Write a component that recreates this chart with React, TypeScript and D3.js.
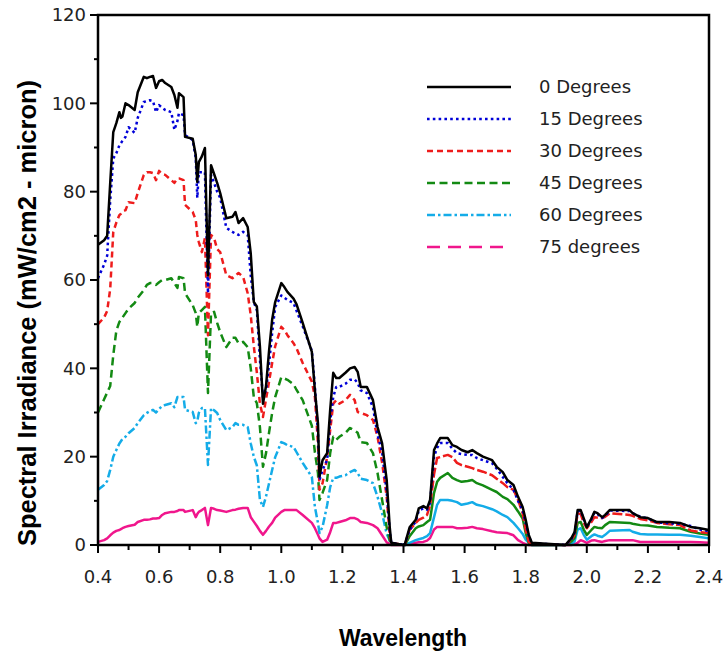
import React from "react";
import * as d3 from "d3";

const wavelengths = [
  0.40,0.42,0.43,0.44,0.45,0.46,0.47,0.475,0.48,0.49,
  0.50,0.52,0.53,0.55,0.56,0.57,0.58,0.59,0.60,0.61,
  0.62,0.64,0.65,0.66,0.665,0.68,0.685,0.71,0.72,0.725,
  0.73,0.74,0.75,0.76,0.77,0.78,0.79,0.80,0.82,0.84,
  0.85,0.86,0.875,0.89,0.90,0.91,0.92,0.93,0.94,0.95,
  0.96,0.97,0.98,1.00,1.01,1.02,1.04,1.05,1.07,1.10,
  1.11,1.12,1.125,1.135,1.15,1.16,1.17,1.18,1.19,1.21,
  1.225,1.24,1.25,1.26,1.28,1.30,1.315,1.33,1.345,1.355,
  1.36,1.40,1.405,1.42,1.44,1.45,1.465,1.477,1.487,1.50,
  1.51,1.52,1.545,1.56,1.575,1.59,1.61,1.625,1.64,1.66,
  1.69,1.705,1.725,1.74,1.76,1.775,1.79,1.80,1.81,1.82,
  1.93,1.95,1.96,1.97,1.98,1.99,2.00,2.015,2.025,2.035,
  2.05,2.06,2.075,2.14,2.15,2.175,2.20,2.23,2.27,2.305,
  2.34,2.37,2.40,
];

const deg0 = [
  68,69,70,82,93.5,95.5,98,96.7,97,100,
  99.6,98.5,102.5,106,105.7,106,106.2,103.5,105,105.3,
  104.6,103.7,101.9,99,102.3,101.4,92.4,92,88.3,82.2,
  86.7,88,89.9,61,86,84,82,79.7,74,74.3,
  75.4,72.9,74,72,66,55,54,45,32,36,
  44,51,55,59.3,58.4,57.3,55.8,54.5,50.3,43.7,
  35,27.6,15.5,19.2,20.8,30.6,39,37.8,37.8,39,
  40,40.3,39.2,35.8,35.8,32.8,26.7,23,14.7,4,
  0.5,0,0.3,4,5.7,8.3,8.8,8.3,10.2,21.5,
  23,24.2,24.2,22.6,22.2,21.5,21,21.5,20.8,20,
  19.2,17.7,16.5,14.7,13.6,10.9,8.6,5.7,2.3,0.5,
  0,1.6,2.9,7.9,7.9,6,4,6,7.5,7.2,
  6.3,6.8,7.9,7.9,7.2,6.3,6.1,5.2,5.2,5,
  4.1,3.8,3.4,
];

const deg15 = [
  60.4,63.5,65.5,78,87.5,88.7,90.5,91,91.5,92.4,
  94.6,93.3,96.7,100.3,100.5,100.7,100.5,98,99.6,99,
  98.5,98,94,96,97.8,97.3,92.8,91.7,87.6,78.6,
  84.4,84.4,84.4,57,83.8,82,80,78.6,71.8,70.9,
  70.5,70.2,70.9,70.2,61,55,53.2,42,33.5,35,
  41,48,53.9,56.5,56,55.5,54.8,53,49.5,44,
  35.8,25.4,14.7,17,19.2,28,33.5,35.8,35.8,36.5,
  37.4,37.5,36.7,35,34.4,31.2,25,21,12,3,
  0.5,0,0.3,3.4,5.3,7.8,8.3,8,9.5,20,
  22,23.1,23.1,21.8,20.8,20.6,20.4,20.4,19.7,19.2,
  18.5,17.3,15.4,14,12.5,10,7.9,5,2,0.4,
  0,1.4,2.7,7.6,7.8,5.8,4,5.8,7.3,7,
  6.1,6.6,7.8,7.7,7.2,6.4,6,5.1,4.9,4.8,
  4.3,3.5,3.1,
];

const deg30 = [
  50,51.5,53,58,70.9,73,74.7,75,75.5,75.8,
  77.6,77.4,79.7,83.8,84.4,84.4,84.2,82.6,84.7,84,
  83.8,82.6,82,83,83,82.6,77,75.4,73.6,70.2,
  68.6,66.3,69.5,47.5,70.2,69.5,67,66.3,61.1,60.4,
  61,61.6,60.7,57,52,45,39,32,29,33,
  37,41.2,45,49.4,48.7,47.5,45.7,44.5,41.2,37,
  33.5,23,12.5,14,19.9,26,32,32.8,32,32.8,
  34,32.8,30.1,29.9,29.4,28.3,24.5,18.6,10.9,2,
  0.5,0,0.2,3.4,5,5.7,6.2,6.8,9,16,
  19.7,19.9,20.4,19.9,18.6,18.1,17.7,17.4,17,16.6,
  15.8,15,14,13.1,12.5,10.2,7.2,3.4,0.7,0.2,
  0,1.2,2.3,7.2,7,5,3.8,5.2,6.3,6.2,
  6.1,6.4,7.2,6.8,6.6,5.9,5.6,5,4.7,4.5,
  3.3,2.9,2.7,
];

const deg45 = [
  30,33,34.5,36,43,48.5,50.5,51,51.5,52.5,
  53.5,54.8,56,57.7,58.9,59.3,59.3,58.9,59.5,60,
  60,60.4,59.3,58.2,60.7,60.4,57,54.3,52.5,49.4,
  52.5,53.2,53.9,34.4,52.5,52.8,50.3,48.2,44.8,46.9,
  46.9,45.7,46,44.8,40,33.5,32.1,26.7,17.7,20.8,
  25.5,29.9,33.5,38,37.7,37.4,36.4,35.1,32.8,27,
  21,16.3,10.2,11.8,14.7,20.8,24.5,23.8,24.5,25.4,
  26.5,25.9,25.4,23.3,23.1,20.8,16.3,10.2,4,1,
  0.3,0,0,2,3.8,4.2,4.5,5.2,5.7,11.8,
  14.3,15.2,16.3,15.2,14.7,14.3,14.5,14.7,14,13.5,
  12.5,12,10.9,10.4,9.1,7.6,6,2.7,0.5,0,
  0,0.8,1.6,5,5.2,3.5,2.3,3.4,4.1,3.9,
  3.8,4.5,5.2,5,4.8,4.5,4.4,4.1,3.9,3.8,
  3,2.6,2.3,
];

const deg60 = [
  12.5,13.6,14.5,17,20,21.5,23,23.5,24,24.5,
  25.3,26.5,27.6,29.4,29.9,30.3,30.6,30,30.8,31.5,
  31.7,32.1,31.2,33.5,33.5,33.5,30.6,30.1,27.6,28,
  29.9,31,31,18.1,31,30.5,29.9,28.3,26,26.7,
  27.6,27.2,27.2,26.7,23,20,18,10.2,8.6,11,
  14,17,19.9,23.3,23,22.6,22.2,21,18.6,15.4,
  8.6,5,2.7,4.1,9,13.1,15.2,15.2,15.5,15.8,
  16.5,17,16.3,15,14.7,14,10.9,7.2,2.5,1,
  0.3,0,0,0.5,1.1,1.3,1.6,2,2.7,6.3,
  9.1,10.2,10.2,10,9.7,9.1,9.4,9.7,9.1,8.8,
  8.1,7.6,6.8,6.3,5,3.8,2.5,1.2,0.5,0,
  0,0.3,0.8,3.5,3.8,2.3,1.2,2,2.4,2.1,
  1.8,2.3,3.2,3.4,3,2.5,2.4,2.4,2.3,2.3,
  2.1,1.8,1.5,
];

const deg75 = [
  0.7,1.1,1.5,2.2,2.8,3.2,3.4,3.6,3.8,4.1,
  4.3,4.6,5.2,5.7,5.7,5.8,6,6,6.1,6.8,
  7.2,7.5,7.5,7.7,7.9,7.9,7.5,7.9,6.3,7,
  7.5,7.9,8.4,4.5,8.4,8.2,7.9,7.8,7.5,7.9,
  8,8.2,8.4,8.4,6.3,5.3,4.3,3.2,2.3,3.2,
  4.2,5,6.2,7.5,7.9,7.9,7.9,7.9,6.8,5,
  3.8,2.3,1.5,0.7,1.2,2.9,5,5,5.2,5.6,
  6.1,6.1,5.8,5.2,5,4.5,3.8,2.2,0.6,0.2,
  0,0,0,0.2,0.5,0.6,0.7,1,1.6,3.5,
  4.1,4.1,4.1,4.1,3.8,3.8,3.9,4.1,3.8,3.6,
  3.1,2.9,2.8,2.7,2.2,1.1,0.5,0.2,0,0,
  0,0,0.2,0.5,1.1,0.8,0.5,1,1.1,0.9,
  0.7,0.9,1.1,1.1,1.1,0.7,0.7,0.7,0.7,0.7,
  0.7,0.6,0.5,
];

const seriesLabels = ["0 Degrees", "15 Degrees", "30 Degrees", "45 Degrees", "60 Degrees", "75 degrees"];
const seriesValues = [deg0, deg15, deg30, deg45, deg60, deg75];
const seriesColors = ["#000000", "#0000d8", "#ee1c1c", "#138a13", "#14ace8", "#f0168c"];
// legend dash patterns
const seriesDash = ["none", "2.6,3.2", "6,4", "8,4.5", "8,3,2.5,3", "13,8"];
// how the dense original data renders in the plot (short segments look solid)
const plotDashVis = ["none", "2.6,3.2", "6,4", "8,4.5", "8,3,2.5,3", "none"];
const plotDashNir = ["none", "2.6,3.2", "10,3", "none", "none", "none"];
const nirStart = 1.40;

const xTicks = [0.4, 0.6, 0.8, 1.0, 1.2, 1.4, 1.6, 1.8, 2.0, 2.2, 2.4];
const xMinor = [0.5, 0.7, 0.9, 1.1, 1.3, 1.5, 1.7, 1.9, 2.1, 2.3];
const yTicks = [0, 20, 40, 60, 80, 100, 120];
const yMinor = [10, 30, 50, 70, 90, 110];

export default function App() {
  const W = 728, H = 655;
  const left = 98, right = 709, top = 15, bottom = 545;
  const x = d3.scaleLinear().domain([0.4, 2.4]).range([left, right]);
  const y = d3.scaleLinear().domain([0, 120]).range([bottom, top]);
  const line = d3.line<[number, number]>().x((d) => x(d[0])).y((d) => y(d[1]));
  const tickFont = "'DejaVu Sans', Verdana, sans-serif";
  const titleFont = "'Liberation Sans', Arial, sans-serif";
  const legX0 = 427, legX1 = 511, legText = 539, legY0 = 87, legStep = 32;

  const pts = (vals: number[]) => vals.map((v, i) => [wavelengths[i], v] as [number, number]);

  return (
    <svg width={W} height={H} style={{ position: "absolute", left: 0, top: 0, background: "#fff" }}>
      <rect x={0} y={0} width={W} height={H} fill="#fff" />
      {seriesValues.slice().reverse().map((vals, ri) => {
        const i = seriesValues.length - 1 - ri;
        const p = pts(vals);
        const vis = p.filter((d) => d[0] <= nirStart);
        const nir = p.filter((d) => d[0] >= nirStart);
        return (
          <g key={i}>
            <path d={line(vis) || ""} fill="none" stroke={seriesColors[i]} strokeWidth={2.5}
              strokeDasharray={plotDashVis[i]} strokeLinejoin="round" />
            <path d={line(nir) || ""} fill="none" stroke={seriesColors[i]} strokeWidth={2.5}
              strokeDasharray={plotDashNir[i]} strokeLinejoin="round" />
          </g>
        );
      })}
      <rect x={left} y={top} width={right - left} height={bottom - top} fill="none" stroke="#000" strokeWidth={2.5} />
      {yTicks.map((t) => (
        <g key={"y" + t}>
          <line x1={left - 8} x2={left} y1={y(t)} y2={y(t)} stroke="#000" strokeWidth={2} />
          <text x={left - 12} y={y(t)} dy="0.36em" textAnchor="end" fontFamily={tickFont} fontSize={18} fill="#222">{t}</text>
        </g>
      ))}
      {yMinor.map((t) => (
        <line key={"ym" + t} x1={left - 4} x2={left} y1={y(t)} y2={y(t)} stroke="#000" strokeWidth={2} />
      ))}
      {xTicks.map((t) => (
        <g key={"x" + t}>
          <line x1={x(t)} x2={x(t)} y1={bottom} y2={bottom + 8} stroke="#000" strokeWidth={2} />
          <text x={x(t)} y={bottom + 38} textAnchor="middle" fontFamily={tickFont} fontSize={18} fill="#222">{t.toFixed(1)}</text>
        </g>
      ))}
      {xMinor.map((t) => (
        <line key={"xm" + t} x1={x(t)} x2={x(t)} y1={bottom} y2={bottom + 5} stroke="#000" strokeWidth={2} />
      ))}
      {seriesLabels.map((lab, i) => (
        <g key={"l" + i}>
          <line x1={legX0} x2={legX1} y1={legY0 + i * legStep} y2={legY0 + i * legStep} stroke={seriesColors[i]}
            strokeWidth={2.5} strokeDasharray={seriesDash[i]} />
          <text x={legText} y={legY0 + i * legStep} dy="0.36em" fontFamily={tickFont} fontSize={18} fill="#222">{lab}</text>
        </g>
      ))}
      <text transform={`translate(36, 313) rotate(-90)`} textAnchor="middle"
        fontFamily={titleFont} fontWeight="bold" fontSize={25.5} fill="#000">Spectral Irradiance (mW/cm2 - micron)</text>
      <text x={403} y={646} textAnchor="middle" fontFamily={titleFont} fontWeight="bold" fontSize={23} fill="#000">Wavelength</text>
    </svg>
  );
}
